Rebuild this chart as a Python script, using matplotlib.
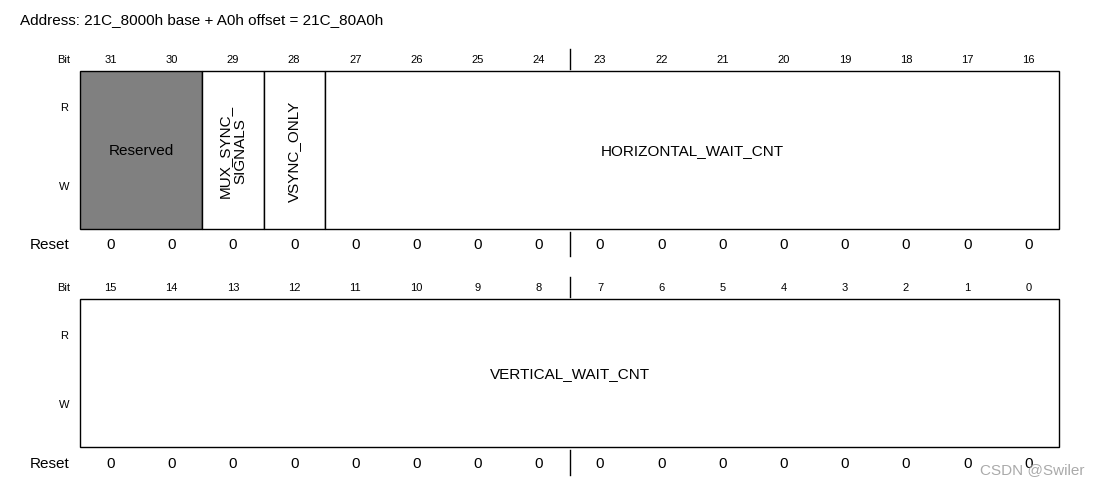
import matplotlib
matplotlib.use("Agg")
import matplotlib.pyplot as plt
from matplotlib.patches import Rectangle

plt.rcParams["font.family"] = ["Liberation Sans", "DejaVu Sans"]

title = "Address: 21C_8000h base + A0h offset = 21C_80A0h"
bits_high = list(range(31, 15, -1))
bits_low = list(range(15, -1, -1))
reset_high = [0] * 16
reset_low = [0] * 16
# (label, msb, lsb, filled, rotated)
fields_high = [("Reserved", 31, 30, True, False),
               ("MUX_SYNC_\nSIGNALS", 29, 29, False, True),
               ("VSYNC_ONLY", 28, 28, False, True),
               ("HORIZONTAL_WAIT_CNT", 27, 16, False, False)]
fields_low = [("VERTICAL_WAIT_CNT", 15, 0, False, False)]

X0, X1 = 80, 1059
CW = (X1 - X0) / 16

fig = plt.figure(figsize=(10.99, 4.89), dpi=100)
ax = fig.add_axes([0, 0, 1, 1])
ax.set_xlim(0, 1099)
ax.set_ylim(489, 0)
ax.axis("off")

ax.text(20, 20, title, fontsize=11, va="center", ha="left")


def draw_row(bits, resets, fields, ybit, ytop, ybot, yreset):
    top_bit = bits[0]
    ax.text(64, ybit, "Bit", fontsize=8, ha="center", va="center")
    ax.text(64, ytop + 36, "R", fontsize=8, ha="center", va="center")
    ax.text(64, ybot - 43, "W", fontsize=8, ha="center", va="center")
    ax.text(50, yreset, "Reset", fontsize=11, ha="center", va="center")
    for i, (b, r) in enumerate(zip(bits, resets)):
        xc = X0 + (i + 0.5) * CW
        ax.text(xc, ybit, str(b), fontsize=8, ha="center", va="center")
        ax.text(xc, yreset, str(r), fontsize=11, ha="center", va="center")
    xm = X0 + 8 * CW
    ax.plot([xm, xm], [ybit - 10, ytop - 2], color="black", lw=1)
    ax.plot([xm, xm], [ybot + 3, yreset + 12], color="black", lw=1)
    for name, msb, lsb, filled, rot in fields:
        x = X0 + (top_bit - msb) * CW
        w = (msb - lsb + 1) * CW
        ax.add_patch(Rectangle((x, ytop), w, ybot - ytop,
                               facecolor="#808080" if filled else "white",
                               edgecolor="black", lw=1))
        ax.text(x + w / 2, (ytop + ybot) / 2, name, fontsize=11,
                ha="center", va="center", rotation=90 if rot else 0,
                linespacing=1.15)


draw_row(bits_high, reset_high, fields_high, 60, 72, 230, 245)
draw_row(bits_low, reset_low, fields_low, 288, 300, 448, 464)

ax.text(1085, 470, "CSDN @Swiler", fontsize=11, color="#aaaaaa",
        ha="right", va="center")

fig.savefig("out.png", dpi=100)
